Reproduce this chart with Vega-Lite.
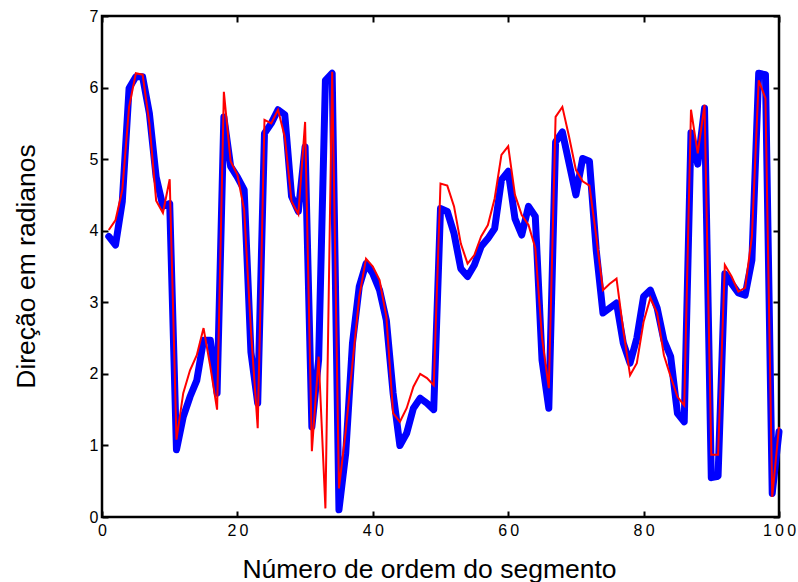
{
  "$schema": "https://vega.github.io/schema/vega-lite/v6.json",
  "width": 677,
  "height": 501,
  "autosize": {"type": "none"},
  "padding": {"left": 102, "top": 16, "right": 19, "bottom": 65},
  "background": "white",
  "config": {
    "font": "Liberation Sans",
    "view": {"stroke": "black", "strokeWidth": 2.5},
    "axis": {
      "domain": false,
      "grid": false,
      "labelFlush": false,
      "tickColor": "black",
      "tickWidth": 2,
      "tickSize": -6,
      "labelColor": "black",
      "labelFontSize": 16,
      "titleColor": "black",
      "titleFontSize": 26.5,
      "titleFontWeight": "normal"
    }
  },
  "data": {
    "values": [
      {"seg": 1, "azul": 3.92, "vermelho": 4.01},
      {"seg": 2, "azul": 3.80, "vermelho": 4.15},
      {"seg": 3, "azul": 4.41, "vermelho": 4.57},
      {"seg": 4, "azul": 5.99, "vermelho": 5.73},
      {"seg": 5, "azul": 6.15, "vermelho": 6.20},
      {"seg": 6, "azul": 6.15, "vermelho": 6.18},
      {"seg": 7, "azul": 5.64, "vermelho": 5.50},
      {"seg": 8, "azul": 4.75, "vermelho": 4.42},
      {"seg": 9, "azul": 4.34, "vermelho": 4.25},
      {"seg": 10, "azul": 4.38, "vermelho": 4.72},
      {"seg": 11, "azul": 0.94, "vermelho": 1.08},
      {"seg": 12, "azul": 1.40, "vermelho": 1.73},
      {"seg": 13, "azul": 1.68, "vermelho": 2.05},
      {"seg": 14, "azul": 1.91, "vermelho": 2.26},
      {"seg": 15, "azul": 2.47, "vermelho": 2.64},
      {"seg": 16, "azul": 2.47, "vermelho": 2.10},
      {"seg": 17, "azul": 1.73, "vermelho": 1.50},
      {"seg": 18, "azul": 5.59, "vermelho": 5.94},
      {"seg": 19, "azul": 4.90, "vermelho": 4.97},
      {"seg": 20, "azul": 4.75, "vermelho": 4.78},
      {"seg": 21, "azul": 4.57, "vermelho": 4.29},
      {"seg": 22, "azul": 2.30, "vermelho": 2.60},
      {"seg": 23, "azul": 1.59, "vermelho": 1.24},
      {"seg": 24, "azul": 5.36, "vermelho": 5.55},
      {"seg": 25, "azul": 5.50, "vermelho": 5.50},
      {"seg": 26, "azul": 5.69, "vermelho": 5.69},
      {"seg": 27, "azul": 5.62, "vermelho": 5.31},
      {"seg": 28, "azul": 4.48, "vermelho": 4.41},
      {"seg": 29, "azul": 4.27, "vermelho": 4.23},
      {"seg": 30, "azul": 5.17, "vermelho": 5.52},
      {"seg": 31, "azul": 1.26, "vermelho": 0.92},
      {"seg": 32, "azul": 2.20, "vermelho": 2.24},
      {"seg": 33, "azul": 6.10, "vermelho": 0.12},
      {"seg": 34, "azul": 6.20, "vermelho": 6.22},
      {"seg": 35, "azul": 0.10, "vermelho": 0.40},
      {"seg": 36, "azul": 0.89, "vermelho": 1.20},
      {"seg": 37, "azul": 2.43, "vermelho": 2.15},
      {"seg": 38, "azul": 3.22, "vermelho": 3.08},
      {"seg": 39, "azul": 3.54, "vermelho": 3.61},
      {"seg": 40, "azul": 3.40, "vermelho": 3.50},
      {"seg": 41, "azul": 3.17, "vermelho": 3.31},
      {"seg": 42, "azul": 2.75, "vermelho": 2.80},
      {"seg": 43, "azul": 1.73, "vermelho": 1.45},
      {"seg": 44, "azul": 1.00, "vermelho": 1.33},
      {"seg": 45, "azul": 1.17, "vermelho": 1.52},
      {"seg": 46, "azul": 1.52, "vermelho": 1.82},
      {"seg": 47, "azul": 1.66, "vermelho": 2.00},
      {"seg": 48, "azul": 1.59, "vermelho": 1.94},
      {"seg": 49, "azul": 1.50, "vermelho": 1.84},
      {"seg": 50, "azul": 4.31, "vermelho": 4.66},
      {"seg": 51, "azul": 4.27, "vermelho": 4.63},
      {"seg": 52, "azul": 3.96, "vermelho": 4.34},
      {"seg": 53, "azul": 3.47, "vermelho": 3.82},
      {"seg": 54, "azul": 3.36, "vermelho": 3.54},
      {"seg": 55, "azul": 3.52, "vermelho": 3.66},
      {"seg": 56, "azul": 3.78, "vermelho": 3.92},
      {"seg": 57, "azul": 3.89, "vermelho": 4.08},
      {"seg": 58, "azul": 4.03, "vermelho": 4.45},
      {"seg": 59, "azul": 4.71, "vermelho": 5.06},
      {"seg": 60, "azul": 4.83, "vermelho": 5.18},
      {"seg": 61, "azul": 4.17, "vermelho": 4.50},
      {"seg": 62, "azul": 3.94, "vermelho": 4.22},
      {"seg": 63, "azul": 4.34, "vermelho": 4.08},
      {"seg": 64, "azul": 4.20, "vermelho": 3.76},
      {"seg": 65, "azul": 2.19, "vermelho": 2.50},
      {"seg": 66, "azul": 1.52, "vermelho": 1.80},
      {"seg": 67, "azul": 5.24, "vermelho": 5.59},
      {"seg": 68, "azul": 5.38, "vermelho": 5.73},
      {"seg": 69, "azul": 4.94, "vermelho": 5.31},
      {"seg": 70, "azul": 4.50, "vermelho": 4.85},
      {"seg": 71, "azul": 5.01, "vermelho": 4.69},
      {"seg": 72, "azul": 4.97, "vermelho": 4.63},
      {"seg": 73, "azul": 3.73, "vermelho": 3.92},
      {"seg": 74, "azul": 2.85, "vermelho": 3.17},
      {"seg": 75, "azul": 2.92, "vermelho": 3.26},
      {"seg": 76, "azul": 2.99, "vermelho": 3.33},
      {"seg": 77, "azul": 2.43, "vermelho": 2.61},
      {"seg": 78, "azul": 2.15, "vermelho": 1.98},
      {"seg": 79, "azul": 2.50, "vermelho": 2.15},
      {"seg": 80, "azul": 3.08, "vermelho": 2.73},
      {"seg": 81, "azul": 3.17, "vermelho": 3.06},
      {"seg": 82, "azul": 2.92, "vermelho": 2.85},
      {"seg": 83, "azul": 2.47, "vermelho": 2.26},
      {"seg": 84, "azul": 2.24, "vermelho": 1.96},
      {"seg": 85, "azul": 1.45, "vermelho": 1.68},
      {"seg": 86, "azul": 1.33, "vermelho": 1.56},
      {"seg": 87, "azul": 5.37, "vermelho": 5.69},
      {"seg": 88, "azul": 4.93, "vermelho": 5.08},
      {"seg": 89, "azul": 5.71, "vermelho": 5.76},
      {"seg": 90, "azul": 0.55, "vermelho": 0.87},
      {"seg": 91, "azul": 0.57, "vermelho": 0.87},
      {"seg": 92, "azul": 3.40, "vermelho": 3.52},
      {"seg": 93, "azul": 3.26, "vermelho": 3.36},
      {"seg": 94, "azul": 3.13, "vermelho": 3.15},
      {"seg": 95, "azul": 3.10, "vermelho": 3.20},
      {"seg": 96, "azul": 3.59, "vermelho": 3.92},
      {"seg": 97, "azul": 6.20, "vermelho": 6.10},
      {"seg": 98, "azul": 6.18, "vermelho": 5.85},
      {"seg": 99, "azul": 0.33, "vermelho": 0.28},
      {"seg": 100, "azul": 1.19, "vermelho": 1.26}
    ]
  },
  "layer": [
    {
      "mark": {"type": "line", "color": "#0000ff", "strokeWidth": 7, "strokeJoin": "round", "strokeCap": "round"},
      "encoding": {
        "x": {
          "field": "seg", "type": "quantitative",
          "scale": {"domain": [0, 100], "nice": false, "zero": false},
          "axis": {
            "orient": "bottom",
            "values": [0, 20, 40, 60, 80, 100],
            "labelExpr": "join(split(datum.label, ''), '\u2009')",
            "labelPadding": 11,
            "title": "Número de ordem do segmento",
            "titleX": 327,
            "titleY": 60,
            "titleAlign": "center",
            "titleBaseline": "alphabetic"
          }
        },
        "y": {
          "field": "azul", "type": "quantitative",
          "scale": {"domain": [0, 7], "nice": false},
          "axis": {
            "orient": "left",
            "values": [0, 1, 2, 3, 4, 5, 6, 7],
            "labelPadding": 10,
            "title": "Direção em radianos",
            "titleX": -68,
            "titleY": 250,
            "titleAngle": -90,
            "titleAlign": "center",
            "titleBaseline": "alphabetic"
          }
        }
      }
    },
    {
      "mark": {"type": "line", "color": "#ff0000", "strokeWidth": 2, "strokeJoin": "miter"},
      "encoding": {
        "x": {
          "field": "seg", "type": "quantitative",
          "axis": {"orient": "top", "values": [0, 20, 40, 60, 80, 100], "labels": false, "title": null}
        },
        "y": {
          "field": "vermelho", "type": "quantitative",
          "axis": {"orient": "right", "values": [0, 1, 2, 3, 4, 5, 6, 7], "labels": false, "title": null}
        }
      }
    }
  ],
  "resolve": {"axis": {"x": "independent", "y": "independent"}}
}
